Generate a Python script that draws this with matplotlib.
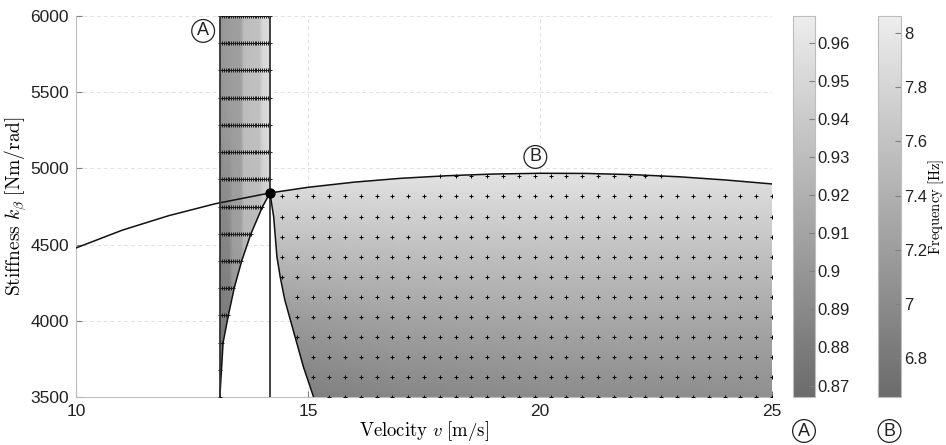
import numpy as np
import matplotlib
matplotlib.use("Agg")
import matplotlib.pyplot as plt
from matplotlib.path import Path
from matplotlib.patches import PathPatch
from matplotlib.colors import LinearSegmentedColormap, Normalize
from matplotlib.cm import ScalarMappable
from matplotlib.ticker import FormatStrFormatter

plt.rcParams["font.family"] = ["Liberation Sans", "DejaVu Sans"]
plt.rcParams["mathtext.fontset"] = "cm"

# ---- axis limits and ticks ----
V_LIM = (10, 25)
K_LIM = (3500, 6000)
x_ticks = [10, 15, 20, 25]
y_ticks = [3500, 4000, 4500, 5000, 5500, 6000]

# ---- stability boundary B (upper curve) ----
top_v = [10, 11, 12, 13, 14.18, 15, 16, 17, 18, 19, 20, 21, 22, 23, 24, 25]
top_k = [4478, 4595, 4690, 4768, 4839, 4876, 4910, 4935, 4952, 4963, 4968,
         4967, 4959, 4945, 4924, 4898]

# ---- left boundary of region B (from cusp down to k = 3500) ----
edgeB_k = [3500, 3699, 3896, 4137, 4289, 4421, 4683, 4839]
edgeB_v = [15.12, 14.90, 14.72, 14.50, 14.40, 14.33, 14.26, 14.18]

# ---- lower boundary of region A ----
edgeA_k = [3500, 3856, 4031, 4215, 4392, 4571, 4749, 4839]
edgeA_v = [13.10, 13.17, 13.28, 13.41, 13.57, 13.77, 14.02, 14.18]

A_LEFT = 13.10
CUSP_V, CUSP_K = 14.18, 4839

# ---- field A (colour bar A) ----
a_v = [13.10, 13.30, 13.38, 13.55, 13.62, 13.95, 14.02, 14.18]
a_k = [3500, 4500, 5200, 6000]
a_vals = [
    [0.875, 0.878, 0.895, 0.900, 0.920, 0.925, 0.935, 0.940],
    [0.885, 0.887, 0.905, 0.907, 0.925, 0.928, 0.940, 0.945],
    [0.898, 0.903, 0.905, 0.907, 0.930, 0.932, 0.948, 0.953],
    [0.900, 0.905, 0.906, 0.908, 0.930, 0.933, 0.950, 0.955],
]
A_RANGE = (0.867, 0.967)
A_TICKS = [0.87, 0.88, 0.89, 0.90, 0.91, 0.92, 0.93, 0.94, 0.95, 0.96]

# ---- field B: frequency [Hz] ----
b_v = [14.18, 17, 20, 25]
b_k = [3500, 4000, 4500, 5000]
b_vals = [
    [6.85, 6.95, 7.00, 7.05],
    [7.15, 7.25, 7.30, 7.30],
    [7.55, 7.60, 7.62, 7.62],
    [7.95, 7.98, 7.98, 7.95],
]
B_RANGE = (6.656, 8.063)
B_TICKS = [6.8, 7.0, 7.2, 7.4, 7.6, 7.8, 8.0]

# ---- computation grids ----
grid_B_v = np.linspace(10, 25, 45)
grid_B_k = np.linspace(3500, 6000, 20)
grid_A_v = np.linspace(A_LEFT, CUSP_V, 27)
grid_A_k = np.linspace(3500, 6000, 15)

cmap = LinearSegmentedColormap.from_list("greys", [(0.42, 0.42, 0.42), (0.93, 0.93, 0.93)])

fig = plt.figure(figsize=(9.46, 4.45), dpi=100)
ax = fig.add_axes([76 / 946, 48 / 445, 696 / 946, 381 / 445])
ax.set_xlim(*V_LIM)
ax.set_ylim(*K_LIM)

# grid
ax.set_xticks(x_ticks)
ax.set_yticks(y_ticks)
ax.grid(True, linestyle=(0, (4, 3)), color="#e2e2e2", lw=0.7, zorder=0)
ax.set_axisbelow(True)

# region A outline path
A_poly = [(A_LEFT, K_LIM[1]), (CUSP_V, K_LIM[1])]
A_poly += list(zip(edgeA_v[::-1], edgeA_k[::-1]))
A_path = Path(A_poly + [A_poly[0]], closed=True)
A_patch = PathPatch(A_path, fc="none", ec="none", transform=ax.transData)
ax.add_patch(A_patch)

normA = Normalize(*A_RANGE)
meshA = ax.pcolormesh(*np.meshgrid(a_v, a_k), np.array(a_vals), cmap=cmap,
                      norm=normA, shading="gouraud", zorder=1)
meshA.set_clip_path(A_patch)

# region B outline path
tv = np.array(top_v)
tk = np.array(top_k)
sel = tv >= CUSP_V
B_poly = list(zip(tv[sel], tk[sel])) + [(V_LIM[1], K_LIM[0])]
B_poly += list(zip(edgeB_v, edgeB_k))
B_path = Path(B_poly, closed=True)
B_patch = PathPatch(B_path, fc="none", ec="none", transform=ax.transData)
ax.add_patch(B_patch)

normB = Normalize(*B_RANGE)
meshB = ax.pcolormesh(*np.meshgrid(b_v, b_k), np.array(b_vals), cmap=cmap,
                      norm=normB, shading="gouraud", zorder=1)
meshB.set_clip_path(B_patch)

# grid points inside region B
VV, KK = np.meshgrid(grid_B_v, grid_B_k)
VV, KK = VV.ravel(), KK.ravel()
inside_B = (KK <= np.interp(VV, top_v, top_k) + 1e-6) & \
           (VV >= np.interp(KK, edgeB_k, edgeB_v) - 1e-6)
ax.plot(VV[inside_B], KK[inside_B], "+", color="black", ms=3.2, mew=0.7, zorder=4)

# grid points inside region A
VA, KA = np.meshgrid(grid_A_v, grid_A_k)
VA, KA = VA.ravel(), KA.ravel()
inside_A = VA <= np.interp(KA, edgeA_k, edgeA_v) + 1e-6
ax.plot(VA[inside_A], KA[inside_A], "+", color="#1a1a1a", ms=3.0, mew=0.7, zorder=4)

# boundary curves
ax.plot(top_v, top_k, color="#111111", lw=1.1, zorder=5)
ax.plot(edgeA_v, edgeA_k, color="#111111", lw=1.1, zorder=5)
ax.plot(edgeB_v, edgeB_k, color="#111111", lw=1.1, zorder=5)
ax.plot([A_LEFT, A_LEFT], K_LIM, color="#333333", lw=1.3, zorder=5)
ax.plot([CUSP_V, CUSP_V], [CUSP_K, K_LIM[1]], color="#333333", lw=1.3, zorder=5)
ax.plot([CUSP_V, CUSP_V], [K_LIM[0], CUSP_K], color="#111111", lw=1.1, zorder=5)
ax.plot([CUSP_V], [CUSP_K], "o", color="black", ms=6.5, zorder=6)

# circled region labels
circ = dict(boxstyle="circle,pad=0.16", fc="white", ec="#222222", lw=0.9)
ax.text(12.74, 5902, "A", ha="center", va="center", fontsize=13, bbox=circ,
        color="#222222", zorder=7)
ax.text(19.9, 5075, "B", ha="center", va="center", fontsize=13, bbox=circ,
        color="#222222", zorder=7)

# axes styling
for s in ("top", "right"):
    ax.spines[s].set_visible(False)
for s in ("left", "bottom"):
    ax.spines[s].set_color("#bdbdbd")
    ax.spines[s].set_linewidth(0.8)
ax.tick_params(direction="in", length=4, color="#7f7f7f", labelsize=12.5,
               labelcolor="#222222", pad=5)
ax.set_xlabel(r"$\mathrm{Velocity}\ v\ \mathrm{[m/s]}$", fontsize=13.5, labelpad=0)
ax.set_ylabel(r"$\mathrm{Stiffness}\ k_\beta\ \mathrm{[Nm/rad]}$", fontsize=14)
ax.yaxis.set_label_coords(-0.067, 0.5)

# colour bars
caxA = fig.add_axes([793 / 946, 48 / 445, 22 / 946, 381 / 445])
cbA = fig.colorbar(ScalarMappable(norm=normA, cmap=cmap), cax=caxA)
cbA.set_ticks(A_TICKS)
cbA.ax.yaxis.set_major_formatter(FormatStrFormatter("%g"))

caxB = fig.add_axes([878 / 946, 48 / 445, 23 / 946, 381 / 445])
cbB = fig.colorbar(ScalarMappable(norm=normB, cmap=cmap), cax=caxB)
cbB.set_ticks(B_TICKS)
cbB.ax.yaxis.set_major_formatter(FormatStrFormatter("%g"))
cbB.set_label(r"$\mathrm{Frequency\ [Hz]}$", fontsize=10.5)
cbB.ax.yaxis.set_label_coords(2.1, 0.5)

for cb in (cbA, cbB):
    cb.outline.set_edgecolor("#bdbdbd")
    cb.outline.set_linewidth(0.8)
    cb.ax.tick_params(direction="in", length=4, color="#7f7f7f", labelsize=12,
                      labelcolor="#222222", pad=2)

fig.text(804 / 946, 1 - 431 / 445, "A", ha="center", va="center", fontsize=13,
         bbox=circ, color="#222222")
fig.text(889.5 / 946, 1 - 431 / 445, "B", ha="center", va="center", fontsize=13,
         bbox=circ, color="#222222")

fig.savefig("out.png", dpi=100)
